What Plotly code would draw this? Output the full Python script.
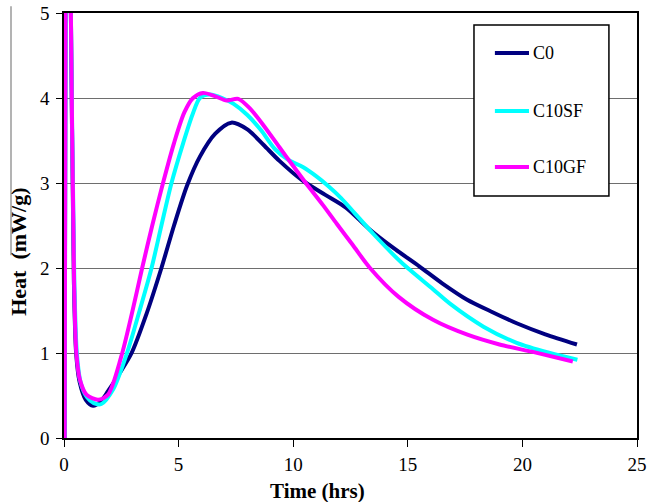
import plotly.graph_objects as go

# Heat flow curves (time in hours, heat in mW/g)
series_names = ["C0", "C10SF", "C10GF"]
series_colors = ["#000080", "#00FFFF", "#FF00FF"]

c0_time = [0.03, 0.1, 0.3, 0.43, 0.53, 0.68, 0.95, 1.27, 1.6, 1.92, 2.4, 2.95, 3.6,
           4.25, 4.8, 5.37, 5.93, 6.6, 7.3, 8.0, 8.7, 9.4, 10.4, 11.4, 12.3, 13.35,
           14.4, 15.5, 16.5, 17.57, 18.7, 19.75, 21.0, 22.38]
c0_heat = [0, 10, 5.0, 1.86, 1.0, 0.66, 0.45, 0.38, 0.43, 0.55, 0.75, 1.0, 1.46,
           2.0, 2.5, 2.97, 3.31, 3.58, 3.71, 3.63, 3.45, 3.26, 3.03, 2.86, 2.71, 2.45,
           2.23, 2.02, 1.82, 1.63, 1.48, 1.35, 1.22, 1.10]

c10sf_time = [0.03, 0.1, 0.3, 0.45, 0.56, 0.72, 1.0, 1.3, 1.63, 2.14, 2.75, 3.3, 3.82,
              4.25, 4.69, 5.2, 5.6, 5.93, 6.36, 6.9, 7.4, 8.0, 8.6, 9.2, 9.8, 10.4,
              11.0, 11.5, 12.1, 12.7, 13.5, 14.7, 16.1, 16.84, 18.3, 19.75, 21.2, 22.4]
c10sf_heat = [0, 10, 5.0, 1.86, 1.0, 0.66, 0.48, 0.41, 0.40, 0.57, 1.0, 1.5, 2.0,
              2.5, 3.0, 3.47, 3.8, 4.0, 4.04, 4.0, 3.93, 3.80, 3.62, 3.40, 3.27, 3.19,
              3.08, 2.97, 2.82, 2.64, 2.40, 2.07, 1.75, 1.58, 1.31, 1.12, 1.0, 0.92]

c10gf_time = [0.03, 0.1, 0.3, 0.44, 0.54, 0.69, 0.98, 1.49, 1.92, 2.5, 2.95, 3.41, 3.85,
              4.32, 4.8, 5.25, 5.63, 6.06, 6.6, 7.1, 7.6, 8.1, 8.7, 9.4, 10.0, 10.55,
              11.3, 11.9, 12.6, 13.35, 14.6, 16.1, 17.6, 19.0, 20.5, 22.2]
c10gf_heat = [0, 10, 5.0, 1.86, 1.0, 0.69, 0.51, 0.45, 0.51, 0.96, 1.45, 2.0, 2.5,
              3.0, 3.47, 3.83, 4.0, 4.06, 4.02, 3.97, 3.99, 3.88, 3.68, 3.42, 3.2, 3.0,
              2.74, 2.52, 2.27, 2.0, 1.66, 1.39, 1.215, 1.10, 1.01, 0.90]

x_ticks = [0, 5, 10, 15, 20, 25]
y_ticks = [0, 1, 2, 3, 4, 5]

times = [c0_time, c10sf_time, c10gf_time]
heats = [c0_heat, c10sf_heat, c10gf_heat]

SERIF = "Liberation Serif, Times New Roman, serif"

fig = go.Figure()
for name, color, t, h in zip(series_names, series_colors, times, heats):
    fig.add_trace(go.Scatter(
        x=t, y=h, name=name, mode="lines",
        line=dict(color=color, width=4, shape="spline", smoothing=0.8),
        showlegend=False,
    ))

fig.update_layout(
    width=648, height=502,
    margin=dict(l=64, r=11, t=13, b=64),
    paper_bgcolor="white", plot_bgcolor="white",
    font=dict(family=SERIF, size=19, color="black"),
    xaxis=dict(
        range=[0, 25], tickvals=x_ticks, ticks="outside", ticklen=7,
        tickcolor="black", showline=True, linecolor="black", linewidth=1.5,
        mirror=True, showgrid=False, zeroline=False, automargin=False,
        ticklabelstandoff=1, tickfont=dict(family=SERIF, size=19),
    ),
    yaxis=dict(
        range=[0, 5], tickvals=y_ticks, ticks="outside", ticklen=6,
        tickcolor="black", showline=True, linecolor="black", linewidth=1.5,
        mirror=True, showgrid=True, gridcolor="#6e6e6e", gridwidth=1,
        zeroline=False, automargin=False, ticklabelstandoff=3,
        tickfont=dict(family=SERIF, size=19),
    ),
)

# axis titles
fig.add_annotation(text="<b>Time (hrs)</b>", xref="paper", yref="paper",
                   x=0.443, y=-0.124, xanchor="center", yanchor="middle",
                   showarrow=False, font=dict(family=SERIF, size=21))
fig.add_annotation(text="<b>Heat  (mW/g)</b>", xref="paper", yref="paper",
                   x=-0.0794, y=0.437, xanchor="center", yanchor="middle",
                   textangle=-90, showarrow=False, font=dict(family=SERIF, size=22))

# faint frame edge at the left of the chart area
fig.add_shape(type="line", xref="paper", yref="paper",
              x0=-0.0925, x1=-0.0925, y0=1.016, y1=0.43,
              line=dict(color="#9a9a9a", width=1.5))

# legend box
lx0, lx1, ly0, ly1 = 0.7155, 0.951, 0.5694, 0.9718
fig.add_shape(type="rect", xref="paper", yref="paper",
              x0=lx0, x1=lx1, y0=ly0, y1=ly1,
              fillcolor="white", line=dict(color="black", width=1.5), layer="above")
entry_y = [0.9059, 0.7694, 0.6376]
for name, color, ey in zip(series_names, series_colors, entry_y):
    fig.add_shape(type="line", xref="paper", yref="paper",
                  x0=0.752, x1=0.8115, y0=ey, y1=ey,
                  line=dict(color=color, width=4), layer="above")
    fig.add_annotation(text=name, xref="paper", yref="paper",
                       x=0.815, y=ey, xanchor="left", yanchor="middle",
                       showarrow=False, font=dict(family=SERIF, size=18, color="black"))

fig.write_html("out.html")
